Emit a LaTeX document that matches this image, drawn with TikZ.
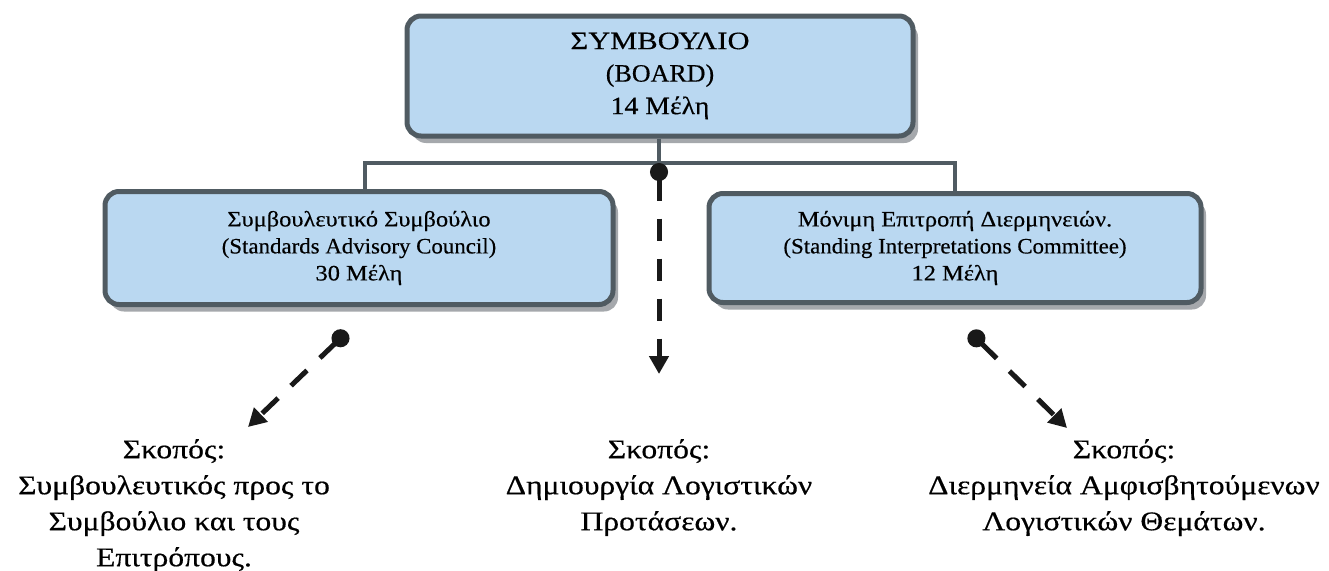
\documentclass[tikz,border=0pt]{standalone}
\usepackage{fontspec}
\setmainfont{Liberation Serif}[FakeStretch=1.04,FakeBold=0.4]
\newfontfamily\gr{Liberation Serif}[FakeStretch=1.11,FakeBold=0.4]
\newfontfamily\grcap{Liberation Serif}[FakeStretch=1.22,FakeBold=0.4]
\newfontfamily\grb{Liberation Serif}[FakeStretch=1.17,FakeBold=0.5]
\usetikzlibrary{arrows.meta,shadows}
\definecolor{boxfill}{RGB}{186,216,241}
\definecolor{boxline}{RGB}{80,91,98}
\definecolor{shadowc}{RGB}{165,168,172}
\tikzset{
  orgbox/.style={draw=boxline, line width=5pt, fill=boxfill, rounded corners=14pt,
    align=center, inner sep=0pt,
    drop shadow={shadow xshift=5pt, shadow yshift=-7pt, fill=shadowc, opacity=1}},
  conn/.style={draw=boxline, line width=4pt},
  dasharrow/.style={line width=5pt, black!90, dash pattern=on 22pt off 18pt,
    {Circle[length=18pt]}-{Triangle[width=19pt,length=18pt]}},
  purpose/.style={align=center, inner sep=0pt, anchor=north,
    font=\grb\fontsize{27pt}{36pt}\selectfont}
}
\begin{document}
\begin{tikzpicture}[x=1pt,y=-1pt]
\useasboundingbox (0,0) rectangle (1329,570);
\fill[white] (0,0) rectangle (1329,570);
\node[orgbox, minimum width=506pt, minimum height=120pt,
      font=\fontsize{25pt}{32.5pt}\selectfont] (board) at (660,76)
  {{\grcap ΣΥΜΒΟΥΛΙΟ}\\(BOARD)\\{\gr 14 Μέλη}};
\node[orgbox, minimum width=508pt, minimum height=113pt,
      font=\fontsize{22pt}{27pt}\selectfont] (sac) at (359,248)
  {{\gr Συμβουλευτικό Συμβούλιο}\\(Standards Advisory Council)\\{\gr 30 Μέλη}};
\node[orgbox, minimum width=492pt, minimum height=109pt,
      font=\fontsize{22pt}{27pt}\selectfont] (sic) at (955,248)
  {{\gr Μόνιμη Επιτροπή Διερμηνειών.}\\(Standing Interpretations Committee)\\{\gr 12 Μέλη}};
\coordinate (hub) at (659,163);
\coordinate (ltop) at ([xshift=6pt]sac.north);
\draw[conn] (board.south -| hub) -- (hub);
\draw[conn] (ltop) |- (hub) -| (sic.north);
\coordinate (lstart) at (347,332);
\coordinate (lend) at (248,427);
\coordinate (rstart) at (970,332);
\coordinate (rend) at (1067,428);
\coordinate (mend) at (659,374);
\draw[dasharrow] (hub) -- (mend);
\draw[dasharrow] (lstart) -- (lend);
\draw[dasharrow] (rstart) -- (rend);
\node[purpose] (lp) at (174,439) {Σκοπός:\\Συμβουλευτικός προς το\\Συμβούλιο και τους\\Επιτρόπους.};
\node[purpose] (mp) at (659,439) {Σκοπός:\\Δημιουργία Λογιστικών\\Προτάσεων.};
\node[purpose] (rp) at (1124,439) {Σκοπός:\\Διερμηνεία Αμφισβητούμενων\\Λογιστικών Θεμάτων.};
\end{tikzpicture}
\end{document}
